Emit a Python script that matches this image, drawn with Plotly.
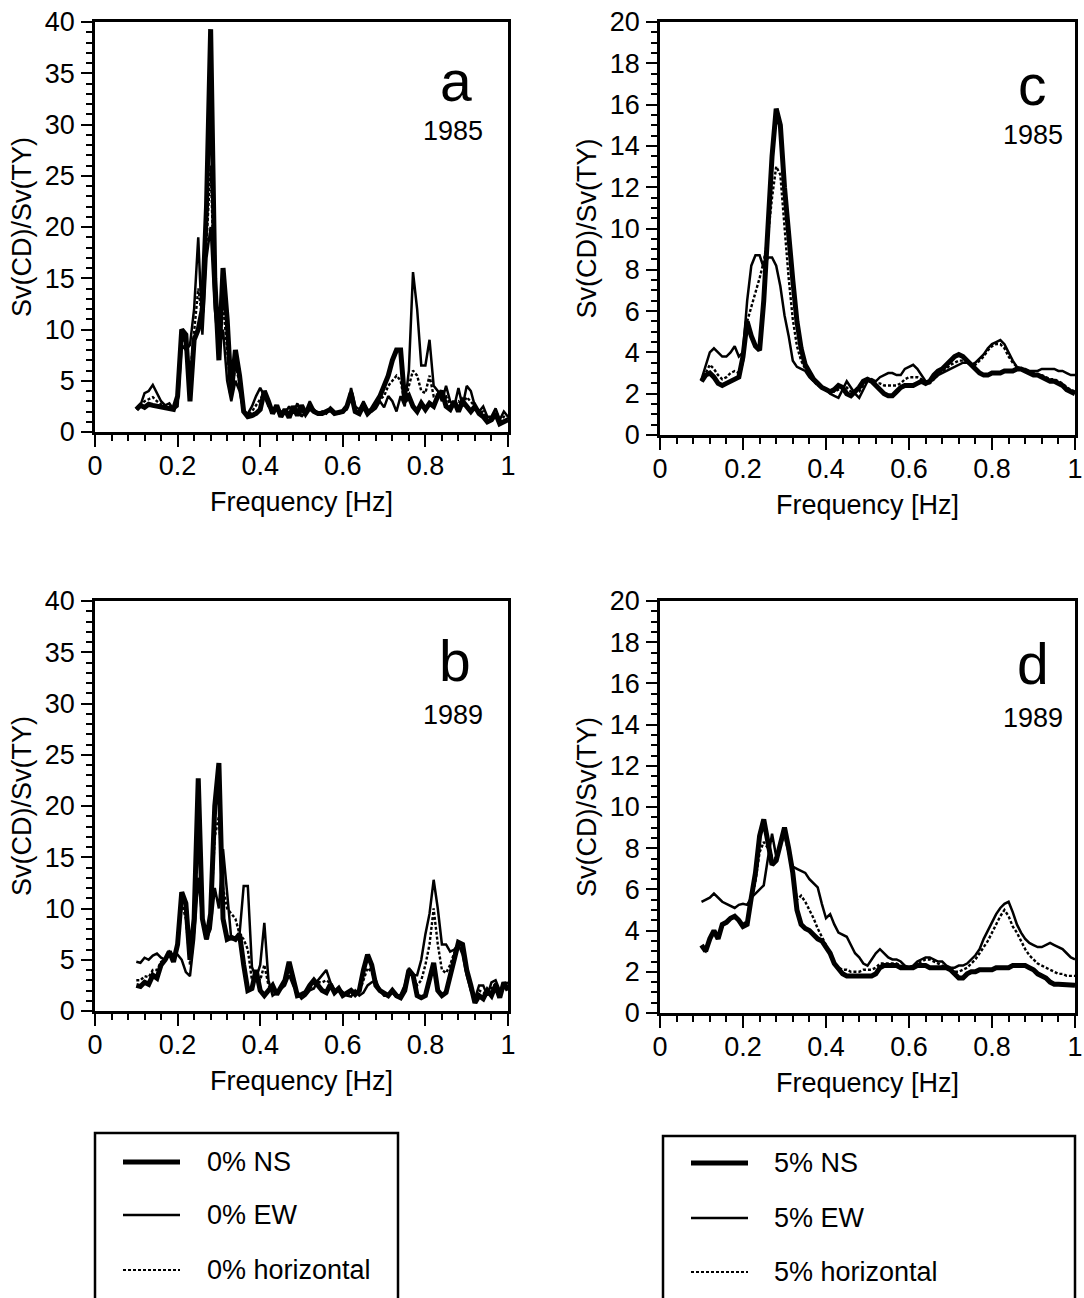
import plotly.graph_objects as go

# Frequency grid [Hz]
FREQ = [0.10, 0.11, 0.12, 0.13, 0.14, 0.15, 0.16, 0.17, 0.18, 0.19,
        0.20, 0.21, 0.22, 0.23, 0.24, 0.25, 0.26, 0.27, 0.28, 0.29,
        0.30, 0.31, 0.32, 0.33, 0.34, 0.35, 0.36, 0.37, 0.38, 0.39,
        0.40, 0.41, 0.42, 0.43, 0.44, 0.45, 0.46, 0.47, 0.48, 0.49,
        0.50, 0.51, 0.52, 0.53, 0.54, 0.55, 0.56, 0.57, 0.58, 0.59,
        0.60, 0.61, 0.62, 0.63, 0.64, 0.65, 0.66, 0.67, 0.68, 0.69,
        0.70, 0.71, 0.72, 0.73, 0.74, 0.75, 0.76, 0.77, 0.78, 0.79,
        0.80, 0.81, 0.82, 0.83, 0.84, 0.85, 0.86, 0.87, 0.88, 0.89,
        0.90, 0.91, 0.92, 0.93, 0.94, 0.95, 0.96, 0.97, 0.98, 0.99, 1.00]

# (a) 0 % damping, 1985
A_NS = [2.2, 2.6, 2.4, 2.7, 2.6, 2.5, 2.5, 2.4, 2.3, 2.2,
        3.5, 10.0, 9.5, 3.0, 9.0, 10.0, 12.0, 22.0, 39.3, 15.0,
        7.0, 16.0, 11.0, 3.8, 8.0, 5.5, 2.0, 1.5, 1.6, 1.8,
        2.2, 4.0, 3.0, 1.8, 2.6, 1.5, 2.2, 1.4, 2.5, 1.6,
        2.6, 1.8, 2.4, 2.0, 1.8, 1.8, 2.0, 2.2, 1.8, 1.9,
        2.0, 2.5, 3.8, 2.0, 1.8, 2.6, 1.8, 2.2, 2.8, 3.5,
        4.5, 5.5, 7.0, 8.0, 8.0, 3.0, 3.5, 2.5, 2.0, 2.8,
        2.2, 2.8, 2.5, 3.5, 4.0, 2.5, 2.2, 3.0, 2.0, 3.0,
        2.5, 2.0, 2.5, 1.8, 1.5, 1.0, 1.2, 1.8, 0.8, 1.0, 1.2]
A_EW = [2.3, 2.6, 3.8, 4.0, 4.6, 3.8, 3.0, 2.6, 2.8, 2.2,
        2.5, 8.5, 8.0, 8.5, 12.0, 19.0, 9.5, 17.0, 20.0, 12.0,
        8.0, 10.0, 5.0, 3.0, 5.0, 4.0, 2.0, 1.8, 2.5, 3.5,
        4.3, 3.5, 2.5, 2.0, 2.4, 2.0, 1.8, 2.5, 1.8, 2.8,
        1.5, 2.0, 3.0, 2.2, 1.8, 2.0, 1.8, 2.4, 2.0, 1.8,
        2.0, 2.2, 4.3, 2.5, 2.2, 3.0, 2.2, 2.0, 2.3, 3.0,
        2.4, 3.5, 3.0, 2.0, 3.5, 2.5, 6.0, 15.6, 12.0, 6.5,
        6.5, 9.0, 4.5, 4.0, 3.0, 4.5, 3.0, 2.5, 4.3, 2.5,
        4.5, 4.0, 2.5, 2.0, 2.5, 1.5, 1.5, 2.3, 1.2, 2.0, 1.5]
A_HZ = [2.2, 2.6, 3.0, 3.2, 3.4, 3.0, 2.7, 2.5, 2.5, 2.2,
        3.0, 9.2, 8.6, 5.5, 10.0, 14.0, 11.0, 19.0, 26.0, 13.0,
        7.5, 12.5, 8.0, 3.5, 6.5, 4.8, 2.0, 1.6, 2.0, 2.6,
        3.2, 3.8, 2.8, 1.9, 2.5, 1.8, 2.0, 1.9, 2.2, 2.2,
        2.0, 1.9, 2.7, 2.1, 1.8, 1.9, 1.9, 2.3, 1.9, 1.9,
        2.0, 2.3, 4.0, 2.2, 2.0, 2.8, 2.0, 2.1, 2.5, 3.2,
        3.5, 4.5, 5.0, 5.5, 5.0, 2.8, 4.5, 6.0, 5.5, 4.0,
        3.8, 5.5, 3.5, 3.7, 3.5, 3.5, 2.6, 2.7, 3.0, 2.7,
        3.4, 3.0, 2.5, 1.9, 2.0, 1.2, 1.3, 2.0, 1.0, 1.5, 1.3]

# (b) 0 % damping, 1989
B_NS = [2.5, 2.4, 2.8, 2.6, 3.5, 3.2, 4.5, 5.0, 5.8, 4.8,
        6.5, 11.6, 10.5, 5.0, 9.0, 22.7, 9.0, 7.0, 9.5, 20.0,
        24.2, 9.0, 7.0, 7.2, 7.0, 7.5, 4.5, 2.0, 2.2, 4.0,
        2.0, 1.5, 2.0, 2.5, 1.6, 2.2, 3.0, 4.8, 3.0, 1.5,
        1.6, 1.8, 2.5, 3.0, 2.5, 2.0, 1.8, 2.6, 1.8, 2.2,
        1.5, 1.8, 2.0, 1.6, 2.0, 4.0, 5.5, 4.5, 2.5, 2.0,
        1.8, 1.5, 2.0, 1.5, 1.3, 2.0, 4.0, 3.5, 1.5, 1.3,
        1.5, 3.0, 4.7, 2.0, 1.5, 1.8, 3.5, 5.5, 6.7, 6.5,
        4.0, 2.5, 0.8, 1.5, 1.2, 2.0, 1.5, 2.5, 1.3, 2.8, 2.0]
B_EW = [4.8, 4.7, 5.2, 5.0, 5.4, 5.6, 5.2, 5.0, 5.8, 5.4,
        5.5, 5.0, 3.8, 3.4, 7.0, 13.0, 9.0, 7.0, 8.0, 12.0,
        10.0, 15.8, 11.5, 7.0, 7.0, 7.5, 12.2, 12.2, 4.3, 3.2,
        4.5, 8.6, 3.0, 1.5, 1.8, 2.2, 2.5, 3.5, 2.5, 1.8,
        1.2, 1.5, 2.0, 2.2, 3.0, 3.5, 4.0, 2.8, 2.0, 2.2,
        1.8, 1.5, 1.4, 2.0, 1.5, 1.8, 2.5, 2.8, 3.0, 2.0,
        1.5, 1.5, 1.8, 1.4, 1.6, 2.5, 4.2, 3.5, 3.5, 5.0,
        7.5, 9.5, 12.8, 10.0, 6.5, 6.5, 5.8, 6.0, 6.5, 5.5,
        3.5, 2.0, 1.2, 2.5, 2.5, 1.5, 2.8, 3.0, 2.0, 2.5, 2.8]
B_HZ = [3.0, 3.0, 3.4, 3.3, 4.0, 4.0, 4.8, 5.0, 5.8, 5.0,
        6.0, 10.5, 9.0, 4.5, 8.5, 18.0, 9.0, 7.0, 9.0, 17.0,
        19.0, 12.0, 10.0, 9.5, 9.0, 7.5, 7.0, 6.0, 3.0, 3.5,
        3.0, 4.5, 2.5, 2.0, 1.7, 2.2, 2.8, 4.2, 2.8, 1.6,
        1.4, 1.6, 2.2, 2.6, 2.8, 2.8, 3.0, 2.7, 1.9, 2.2,
        1.6, 1.6, 1.7, 1.8, 1.8, 3.0, 4.2, 3.8, 2.8, 2.0,
        1.6, 1.5, 1.9, 1.4, 1.4, 2.2, 4.0, 3.5, 2.5, 3.0,
        4.5, 6.5, 10.0, 6.5, 4.0, 3.7, 4.5, 5.7, 6.5, 6.0,
        3.8, 2.2, 1.0, 2.0, 1.8, 1.7, 2.2, 2.7, 1.6, 2.6, 2.4]

# (c) 5 % damping, 1985
C_NS = [2.6, 2.9, 3.0, 2.8, 2.5, 2.4, 2.5, 2.6, 2.7, 2.8,
        3.8, 5.5, 4.8, 4.3, 4.1, 6.5, 10.0, 13.5, 15.8, 15.0,
        12.0, 9.5, 7.5, 5.5, 4.2, 3.4, 3.0, 2.7, 2.5, 2.3,
        2.2, 2.1, 2.2, 2.4, 2.3, 2.0, 1.9, 2.1, 2.3, 2.6,
        2.7, 2.6, 2.4, 2.2, 2.0, 1.9, 1.9, 2.1, 2.3, 2.4,
        2.4, 2.4, 2.5, 2.6, 2.5, 2.6, 2.9, 3.1, 3.2, 3.4,
        3.6, 3.8, 3.9, 3.8, 3.6, 3.4, 3.2, 3.0, 2.9, 2.9,
        3.0, 3.0, 3.0, 3.1, 3.1, 3.1, 3.2, 3.2, 3.1, 3.0,
        2.9, 2.9, 2.8, 2.7, 2.6, 2.6, 2.5, 2.4, 2.2, 2.1, 2.0]
C_EW = [2.7, 3.3, 4.0, 4.2, 4.0, 3.8, 3.8, 4.0, 4.3, 3.8,
        4.0, 6.5, 8.2, 8.7, 8.7, 8.1, 8.6, 8.6, 8.2, 7.2,
        5.8, 4.8, 3.6, 3.3, 3.2, 3.1, 2.8, 2.6, 2.5, 2.3,
        2.2, 2.0, 1.9, 1.8, 2.2, 2.6, 2.3, 2.0, 1.8, 2.2,
        2.6, 2.7, 2.6, 2.8, 2.9, 3.0, 3.0, 2.9, 2.9, 3.2,
        3.3, 3.4, 3.2, 2.9, 2.6, 2.6, 2.7, 2.9, 3.0, 3.1,
        3.2, 3.3, 3.4, 3.5, 3.5, 3.4, 3.5, 3.7, 3.9, 4.2,
        4.4, 4.5, 4.6, 4.4, 4.0, 3.6, 3.3, 3.2, 3.2, 3.1,
        3.1, 3.1, 3.2, 3.2, 3.2, 3.2, 3.1, 3.1, 3.0, 2.9, 2.9]
C_HZ = [2.6, 3.0, 3.4, 3.2, 2.9, 2.7, 2.8, 3.0, 3.1, 3.0,
        3.5, 5.5, 6.2, 6.8, 7.6, 8.4, 9.6, 11.5, 13.0, 12.6,
        10.0, 7.6, 5.6, 4.3, 3.6, 3.2, 2.9, 2.6, 2.4, 2.3,
        2.2, 2.1, 2.1, 2.2, 2.3, 2.3, 2.1, 2.1, 2.1, 2.4,
        2.6, 2.6, 2.5, 2.5, 2.4, 2.4, 2.4, 2.4, 2.5, 2.7,
        2.8, 2.8, 2.8, 2.7, 2.5, 2.5, 2.7, 2.9, 3.1, 3.2,
        3.4, 3.5, 3.6, 3.6, 3.5, 3.4, 3.4, 3.6, 3.8, 4.1,
        4.3, 4.4, 4.4, 4.2, 3.8, 3.5, 3.3, 3.2, 3.1, 3.0,
        3.0, 2.9, 2.9, 2.8, 2.7, 2.7, 2.6, 2.5, 2.3, 2.2, 2.1]

# (d) 5 % damping, 1989
D_NS = [3.3, 3.0, 3.6, 4.0, 3.6, 4.3, 4.4, 4.6, 4.7, 4.5,
        4.2, 4.3, 5.6, 6.8, 8.6, 9.4, 8.3, 7.2, 7.4, 8.3,
        9.0, 8.0, 6.8, 5.0, 4.3, 4.1, 4.0, 3.8, 3.6, 3.5,
        3.2, 2.9, 2.4, 2.1, 1.9, 1.8, 1.8, 1.8, 1.8, 1.8,
        1.8, 1.8, 1.9, 2.2, 2.3, 2.3, 2.3, 2.3, 2.2, 2.2,
        2.2, 2.2, 2.3, 2.3, 2.3, 2.2, 2.2, 2.2, 2.2, 2.2,
        2.1, 1.9, 1.7, 1.7, 1.9, 2.0, 2.0, 2.1, 2.1, 2.1,
        2.1, 2.2, 2.2, 2.2, 2.2, 2.3, 2.3, 2.3, 2.3, 2.2,
        2.1, 1.9, 1.8, 1.7, 1.5, 1.4, 1.4, 1.4, 1.35, 1.35, 1.35]
D_EW = [5.4, 5.5, 5.6, 5.8, 5.6, 5.4, 5.3, 5.2, 5.1, 5.25,
        5.3, 5.25, 5.6, 5.8, 6.0, 6.2, 7.5, 8.7, 7.6, 8.2,
        8.8, 7.8, 7.1, 7.0, 6.9, 6.8, 6.5, 6.3, 6.1, 5.3,
        4.6, 4.8, 4.3, 3.9, 3.8, 3.7, 3.3, 2.9, 2.7, 2.4,
        2.3, 2.6, 2.9, 3.1, 2.9, 2.7, 2.6, 2.6, 2.5, 2.3,
        2.2, 2.3, 2.5, 2.6, 2.7, 2.7, 2.6, 2.5, 2.5, 2.3,
        2.2, 2.2, 2.3, 2.3, 2.4, 2.6, 2.8, 3.1, 3.6, 4.0,
        4.4, 4.8, 5.1, 5.3, 5.4, 4.9, 4.3, 3.9, 3.6, 3.4,
        3.3, 3.2, 3.2, 3.3, 3.4, 3.3, 3.2, 3.1, 2.9, 2.7, 2.6]
D_HZ = [3.2, 3.0, 3.6, 3.9, 3.6, 4.2, 4.4, 4.6, 4.7, 4.5,
        4.3, 4.5, 5.4, 6.4, 7.8, 8.3, 8.0, 7.6, 7.5, 8.2,
        8.6, 7.8, 6.8, 5.5, 5.7, 5.4, 5.0, 4.6, 4.1, 3.7,
        3.3, 2.8, 2.4, 2.2, 2.1, 2.1, 2.0, 2.0, 2.0, 2.1,
        2.1, 2.1, 2.2, 2.4, 2.4, 2.4, 2.4, 2.4, 2.3, 2.2,
        2.2, 2.3, 2.4, 2.5, 2.6, 2.6, 2.5, 2.4, 2.3, 2.2,
        2.1, 2.0, 2.0, 2.1, 2.2, 2.4, 2.6, 2.9, 3.2, 3.5,
        3.9, 4.3, 4.7, 5.0, 4.7, 4.2, 3.9, 3.5, 3.1, 2.8,
        2.6, 2.4, 2.3, 2.2, 2.1, 2.0, 1.9, 1.9, 1.8, 1.8, 1.8]

PANEL_LETTERS = ["a", "c", "b", "d"]
PANEL_YEARS = ["1985", "1985", "1989", "1989"]
Y_TITLE = "Sv(CD)/Sv(TY)"
X_TITLE = "Frequency [Hz]"
LEGEND_LEFT = ["0% NS", "0% EW", "0% horizontal"]
LEGEND_RIGHT = ["5% NS", "5% EW", "5% horizontal"]

W, H = 1084, 1298
FONT = "Liberation Sans, Arial, Helvetica, sans-serif"
FS = 27


def px(x):
    return x / W


def py(y):
    return 1 - y / H


# panel frames in pixels: (left, right, top, bottom)
FRAMES = [(95, 508, 22, 432), (660, 1075, 22, 435),
          (95, 508, 601, 1011), (660, 1075, 601, 1013)]
Y_RANGES = [40, 20, 40, 20]
Y_DTICK = [5, 2, 5, 2]
Y_MINOR = [1, 0.5, 1, 0.5]

SERIES = [(A_NS, A_EW, A_HZ), (C_NS, C_EW, C_HZ),
          (B_NS, B_EW, B_HZ), (D_NS, D_EW, D_HZ)]

fig = go.Figure()

for i, (ns, ew, hz) in enumerate(SERIES):
    sfx = "" if i == 0 else str(i + 1)
    xa, ya = "x" + sfx, "y" + sfx
    fig.add_trace(go.Scatter(x=FREQ, y=hz, mode="lines", xaxis=xa, yaxis=ya,
                             line=dict(color="black", width=2.4, dash="3px,2px"),
                             showlegend=False))
    fig.add_trace(go.Scatter(x=FREQ, y=ew, mode="lines", xaxis=xa, yaxis=ya,
                             line=dict(color="black", width=2.5),
                             showlegend=False))
    fig.add_trace(go.Scatter(x=FREQ, y=ns, mode="lines", xaxis=xa, yaxis=ya,
                             line=dict(color="black", width=5),
                             showlegend=False))

layout = dict(width=W, height=H, margin=dict(l=0, r=0, t=0, b=0),
              paper_bgcolor="white", plot_bgcolor="white",
              font=dict(family=FONT, color="black", size=FS),
              showlegend=False)

for i, (l, r, t, b) in enumerate(FRAMES):
    sfx = "" if i == 0 else str(i + 1)
    layout["xaxis" + sfx] = dict(
        domain=[px(l), px(r)], range=[0, 1], anchor="y" + sfx,
        automargin=False,
        dtick=0.2, tick0=0, ticks="outside", ticklen=12, tickwidth=2,
        tickcolor="black", showline=True, linecolor="black", linewidth=2.5,
        mirror=True, showgrid=False, zeroline=False,
        tickfont=dict(size=FS), ticklabelstandoff=-4,
        minor=dict(dtick=0.04, ticks="outside", ticklen=6, tickwidth=1.5,
                   tickcolor="black", showgrid=False),
        title=dict(text=X_TITLE, font=dict(size=FS), standoff=12))
    layout["yaxis" + sfx] = dict(
        domain=[py(b), py(t)], range=[0, Y_RANGES[i]], anchor="x" + sfx,
        automargin=False,
        dtick=Y_DTICK[i], tick0=0, ticks="outside", ticklen=11, tickwidth=2,
        tickcolor="black", showline=True, linecolor="black", linewidth=2.5,
        mirror=True, showgrid=False, zeroline=False,
        tickfont=dict(size=FS), ticklabelstandoff=1,
        minor=dict(dtick=Y_MINOR[i], ticks="outside", ticklen=6,
                   tickwidth=1.5, tickcolor="black", showgrid=False),
        title=dict(text=Y_TITLE, font=dict(size=FS), standoff=6))

annotations = []
letter_pos = [(456, 81), (1032, 85), (455, 661), (1033, 664)]
year_pos = [(453, 131), (1033, 135), (453, 715), (1033, 718)]
for i in range(4):
    lx, ly = letter_pos[i]
    yx, yy = year_pos[i]
    annotations.append(dict(text=PANEL_LETTERS[i], x=px(lx), y=py(ly),
                            xref="paper", yref="paper", showarrow=False,
                            xanchor="center", yanchor="middle",
                            font=dict(size=57)))
    annotations.append(dict(text=PANEL_YEARS[i], x=px(yx), y=py(yy),
                            xref="paper", yref="paper", showarrow=False,
                            xanchor="center", yanchor="middle",
                            font=dict(size=FS)))

shapes = []
# legend boxes
for (l, t, r) in [(95, 1133, 398), (663, 1136, 1075)]:
    shapes.append(dict(type="rect", xref="paper", yref="paper",
                       x0=px(l), x1=px(r), y0=py(t), y1=py(H + 20),
                       line=dict(color="black", width=2.5)))

legend_styles = [dict(width=5), dict(width=2.5), dict(width=2.2, dash="3px,2px")]
for labels, lx0, lx1, tx, rows in [
        (LEGEND_LEFT, 123, 180, 205, [1162, 1215, 1270]),
        (LEGEND_RIGHT, 691, 748, 772, [1163, 1218, 1272])]:
    for label, st, ry in zip(labels, legend_styles, rows):
        shapes.append(dict(type="line", xref="paper", yref="paper",
                           x0=px(lx0), x1=px(lx1), y0=py(ry), y1=py(ry),
                           line=dict(color="black", **st)))
        annotations.append(dict(text=label, x=px(tx), y=py(ry),
                                xref="paper", yref="paper", showarrow=False,
                                xanchor="left", yanchor="middle",
                                font=dict(size=FS)))

layout["annotations"] = annotations
layout["shapes"] = shapes
fig.update_layout(**layout)

fig.write_html("out.html")
